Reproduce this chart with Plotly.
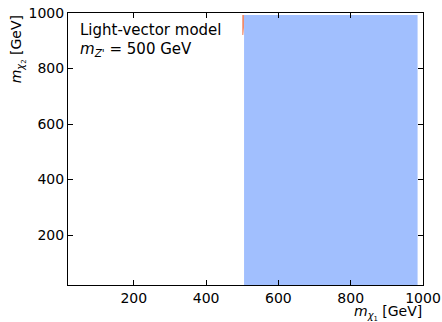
import plotly.graph_objects as go

# data
blue_x = [505, 985, 985, 505, 505]
blue_y = [20, 20, 993, 993, 20]
orange_x = [500, 508, 503, 500, 500]
orange_y = [993, 993, 921, 921, 993]
xticks = [200, 400, 600, 800, 1000]
yticks = [200, 400, 600, 800, 1000]

fig = go.Figure()
fig.add_trace(go.Scatter(x=orange_x, y=orange_y, fill="toself", mode="lines",
                         line=dict(width=0), fillcolor="#f08a6a", hoverinfo="skip"))
fig.add_trace(go.Scatter(x=blue_x, y=blue_y, fill="toself", mode="lines",
                         line=dict(width=0), fillcolor="#a1bffe", hoverinfo="skip"))

font = dict(family="DejaVu Sans", size=14, color="black")
axis_common = dict(ticks="inside", ticklen=5, tickwidth=1, tickcolor="black",
                   showline=True, linecolor="black", linewidth=1, mirror="allticks",
                   showgrid=False, zeroline=False, tickfont=font, automargin=False)
fig.update_layout(
    width=442, height=322, margin=dict(l=68, r=19, t=13, b=37, autoexpand=False),
    plot_bgcolor="white", paper_bgcolor="white", showlegend=False,
    xaxis=dict(range=[18, 1000], tickvals=xticks, **axis_common),
    yaxis=dict(range=[20, 1000], tickvals=yticks, **axis_common),
)
fig.add_annotation(x=1.0, y=-0.064, xref="paper", yref="paper", xanchor="right", yanchor="top",
                   text="<i>m</i><sub><i>χ</i><sub>1</sub></sub> [GeV]", showarrow=False, font=font,
                   borderpad=0)
fig.add_annotation(x=-0.14, y=1.0, xref="paper", yref="paper", xanchor="center", yanchor="top",
                   text="<i>m</i><sub><i>χ</i><sub>2</sub></sub> [GeV]", textangle=-90, showarrow=False, font=font)
fig.add_annotation(x=0.03, y=0.975, xref="paper", yref="paper", xanchor="left", yanchor="top",
                   text="Light-vector model", showarrow=False, borderpad=0,
                   font=dict(family="DejaVu Sans", size=15, color="black"))
fig.add_annotation(x=0.03, y=0.903, xref="paper", yref="paper", xanchor="left", yanchor="top",
                   text="<i>m</i><sub><i>Z'</i></sub> = 500 GeV", showarrow=False, borderpad=0,
                   font=dict(family="DejaVu Sans", size=15, color="black"))
fig.write_html("out.html")
